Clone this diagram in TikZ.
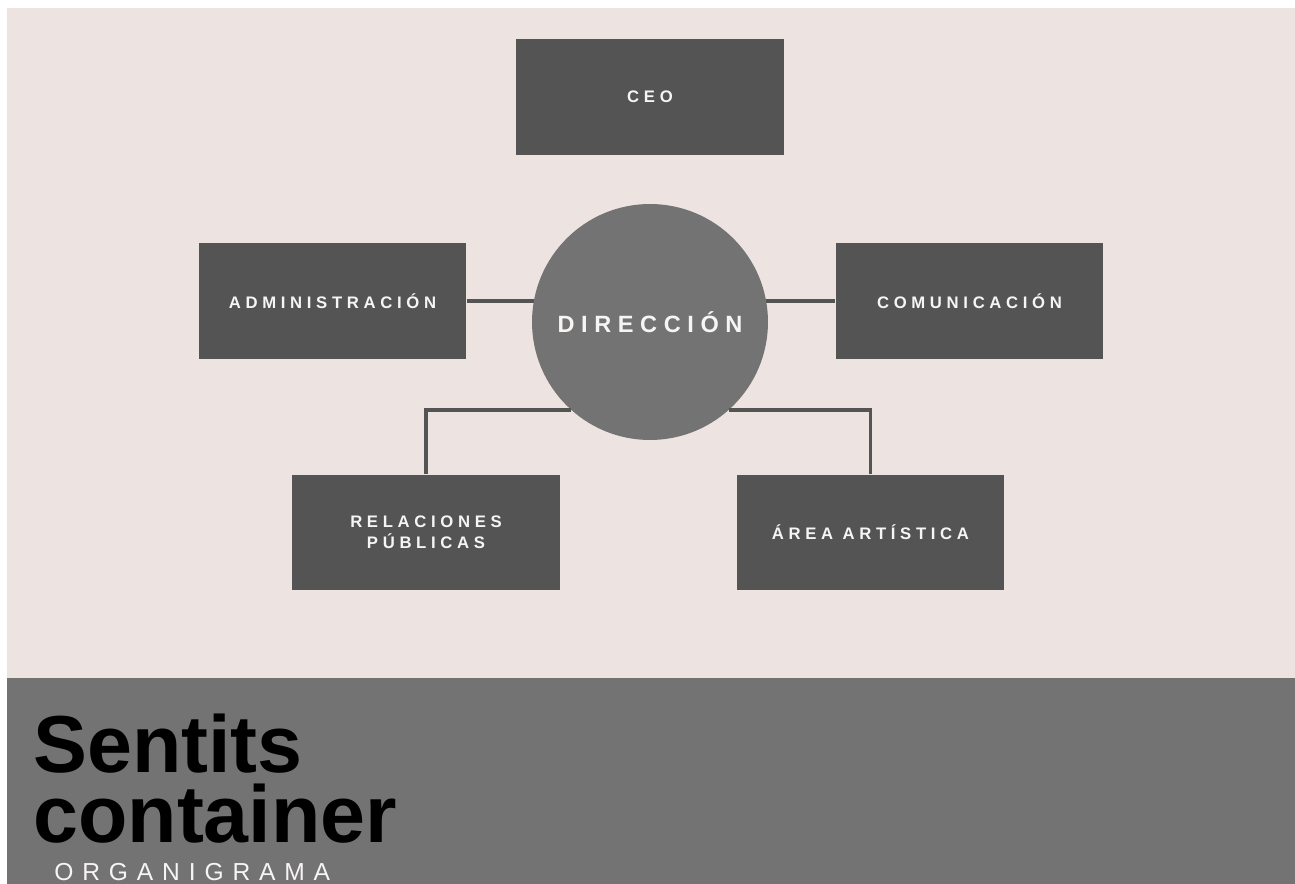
\documentclass[tikz,border=0pt]{standalone}
\usepackage{fontspec}
\setmainfont{Liberation Sans}
\newfontfamily\boxfont[LetterSpace=28]{Liberation Sans}
\newfontfamily\orgfont[LetterSpace=36]{Liberation Sans}
\usetikzlibrary{backgrounds}
\pgfdeclarelayer{bottom}
\pgfsetlayers{bottom,background,main}
\definecolor{pinkbg}{HTML}{EDE4E2}
\definecolor{boxgray}{HTML}{545454}
\definecolor{midgray}{HTML}{737373}
\definecolor{txtwhite}{HTML}{F7F5F4}
\tikzset{
  unitbox/.style={fill=boxgray, draw=none, minimum width=5.36cm, minimum height=2.32cm,
    inner sep=0pt, text=txtwhite, align=center,
    font=\boxfont\bfseries\fontsize{9.5}{12}\selectfont},
  dircircle/.style={circle, fill=midgray, draw=none, minimum size=4.72cm, inner sep=0pt,
    text=txtwhite, font=\boxfont\bfseries\fontsize{13.4}{16}\selectfont},
  conn/.style={draw=boxgray, line width=1.8pt},
  titletext/.style={anchor=base west, inner sep=0pt, text=black, align=left,
    font=\bfseries\fontsize{46}{39.7}\selectfont},
}
\begin{document}
\begin{tikzpicture}[x=0.02cm, y=-0.02cm]
\useasboundingbox (0,0) rectangle (1295,884);
\begin{pgfonlayer}{bottom}
\fill[white] (0,0) rectangle (1295,884);
\fill[pinkbg] (7,8) rectangle (1295,678);
\fill[midgray] (7,678) rectangle (1295,884);
\end{pgfonlayer}

\node[unitbox] (ceo) at (650,97) {CEO};
\node[unitbox] (adm) at (332.5,301) {ADMINISTRACIÓN};
\node[unitbox] (com) at (969.5,301) {COMUNICACIÓN};
\node[unitbox] (rp) at (426,532.5) {RELACIONES\\PÚBLICAS};
\node[unitbox] (aa) at (870.5,532.5) {ÁREA ARTÍSTICA};
\node[dircircle] (dir) at (650,322) {DIRECCIÓN};

\begin{pgfonlayer}{background}
\draw[conn] (adm.east) -- (adm.east -| dir.center);
\draw[conn] (com.west) -- (com.west -| dir.center);
\end{pgfonlayer}
\draw[conn] (rp.north) |- (dir.228);
\draw[conn] (aa.north) |- (dir.312);

\node[titletext] (title) at (33,842) {Sentits\\container};
\node[anchor=base west, inner sep=0pt, text=txtwhite,
  font=\orgfont\fontsize{14}{16}\selectfont] (org) at (54,880.5) {ORGANIGRAMA};
\end{tikzpicture}
\end{document}
